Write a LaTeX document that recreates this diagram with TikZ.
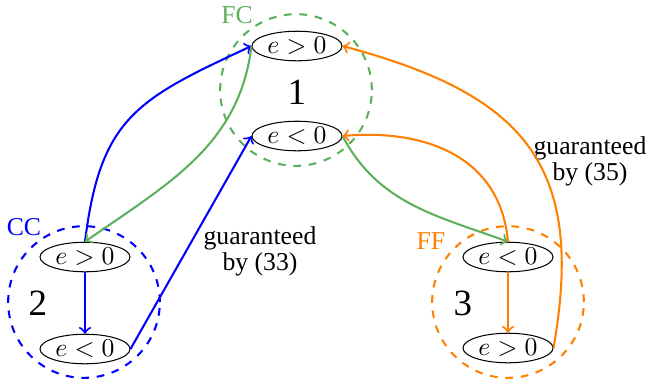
\documentclass[tikz,border=0pt]{standalone}
\usepackage{fontspec}
\setmainfont{Liberation Serif}
\usetikzlibrary{shapes.geometric}
\definecolor{fcgreen}{RGB}{92,176,92}
\definecolor{ccblue}{RGB}{0,0,255}
\definecolor{fforange}{RGB}{255,128,0}

\begin{document}
\begin{tikzpicture}[x=0.389pt, y=-0.389pt,
    sign/.style={ellipse, draw, thin, minimum width=35pt, minimum height=11.5pt, inner sep=0pt},
    region/.style={circle, dashed, thick, minimum size=59pt, inner sep=0pt},
    edge/.style={->, thick}]
  \useasboundingbox (0,0) rectangle (648,386);
  \draw
    (296,90) node[region, draw=fcgreen] (fc){}
    (84,302) node[region, draw=ccblue] (cc){}
    (508,302) node[region, draw=fforange] (ff){};
  \draw
    (297,46) node[sign] (fc1){$e>0$}
    (297,136) node[sign] (fc2){$e<0$}
    (85,257) node[sign] (cc1){$e>0$}
    (85,349) node[sign] (cc2){$e<0$}
    (508,257) node[sign] (ff1){$e<0$}
    (508,348) node[sign] (ff2){$e>0$};
  \draw
    (237,15) node[text=fcgreen] (fclabel){FC}
    (24,227) node[text=ccblue] (cclabel){CC}
    (431,241) node[text=fforange] (fflabel){FF}
    (297,92) node[font=\Large] (fcnum){1}
    (38,303) node[font=\Large] (ccnum){2}
    (463,303) node[font=\Large] (ffnum){3}
    (260,251) node[align=center, font=\fontsize{10}{8}\selectfont] (by33){guaranteed\\by (33)}
    (590,161) node[align=center, font=\fontsize{10}{8}\selectfont] (by35){guaranteed\\by (35)};
  \begin{scope}[edge, ccblue]
    \draw (cc1.north) to[out=83, in=205, looseness=1.25] (fc1.west);
    \draw (cc1) to (cc2);
    \draw (cc2.east) to (fc2.west);
  \end{scope}
  \begin{scope}[edge, fcgreen]
    \draw (fc1.west) to[out=-97, in=35] (cc1.north);
    \draw (fc2.east) to[out=-62, in=160] (ff1.north);
  \end{scope}
  \begin{scope}[edge, fforange]
    \draw (ff1.north) to[out=95, in=5, looseness=1.1] (fc2.east);
    \draw (ff1) to (ff2);
    \draw (ff2.east) to[out=80, in=-15, looseness=1.3] (fc1.east);
  \end{scope}
\end{tikzpicture}
\end{document}
